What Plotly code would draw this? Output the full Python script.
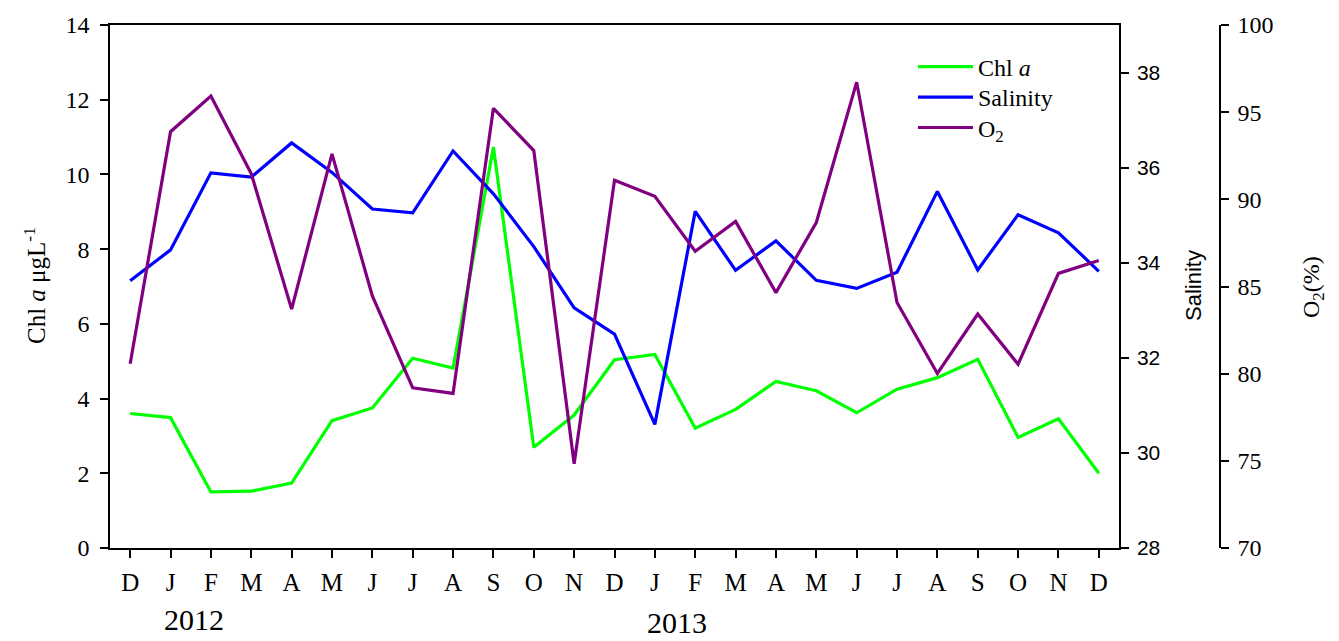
import plotly.graph_objects as go

# Monthly sampling, December 2011 to December 2013
months = ["D", "J", "F", "M", "A", "M", "J", "J", "A", "S", "O", "N",
          "D", "J", "F", "M", "A", "M", "J", "J", "A", "S", "O", "N", "D"]
x_idx = list(range(len(months)))

chl_a = [3.60, 3.49, 1.50, 1.52, 1.74, 3.41, 3.75, 5.08, 4.82, 10.73, 2.70, 3.56,
         5.04, 5.18, 3.21, 3.71, 4.46, 4.21, 3.62, 4.25, 4.56, 5.05, 2.96, 3.46, 2.00]
salinity = [33.62, 34.27, 35.89, 35.80, 36.52, 35.90, 35.13, 35.05, 36.35, 35.45, 34.34, 33.05,
            32.50, 30.60, 35.08, 33.84, 34.46, 33.63, 33.46, 33.80, 35.50, 33.85, 35.01, 34.63, 33.82]
oxygen = [80.57, 93.88, 95.92, 91.47, 83.70, 92.61, 84.46, 79.19, 78.87, 95.22, 92.80, 74.83,
          91.09, 90.18, 87.02, 88.73, 84.65, 88.67, 96.72, 84.08, 80.01, 83.42, 80.54, 85.75, 86.49]

chl_ticks = [0, 2, 4, 6, 8, 10, 12, 14]
sal_ticks = [28, 30, 32, 34, 36, 38]
o2_ticks = [70, 75, 80, 85, 90, 95, 100]

SERIF = "Liberation Serif"
SANS = "Liberation Sans"

W, H = 1339, 641
ML, MR, MT, MB = 110, 119, 19, 93
plot_w = W - ML - MR
plot_h = H - MT - MB
x_dom_end = 1009 / plot_w


def px(xp):
    return (xp - ML) / plot_w


def py(yp):
    return (H - MB - yp) / plot_h


fig = go.Figure()
fig.add_trace(go.Scatter(x=x_idx, y=chl_a, mode="lines", name="Chl <i>a</i>",
                         line=dict(color="#00ff00", width=3.2), yaxis="y",
                         legend="legend"))
fig.add_trace(go.Scatter(x=x_idx, y=salinity, mode="lines", name="Salinity",
                         line=dict(color="#0000ff", width=3.2), yaxis="y2",
                         legend="legend2"))
fig.add_trace(go.Scatter(x=x_idx, y=oxygen, mode="lines", name="O<sub>2</sub>",
                         line=dict(color="#800080", width=3.2), yaxis="y3",
                         legend="legend3"))

axis_common = dict(showline=True, linecolor="black", linewidth=1.5,
                   ticks="outside", ticklen=8, tickwidth=1.5, tickcolor="black",
                   showgrid=False, zeroline=False)


def legend_at(row_y):
    # one legend box per series, stacked as rows
    return dict(x=px(913), y=py(row_y - 28), xanchor="left", yanchor="top",
                font=dict(family=SERIF, size=24, color="black"),
                itemwidth=55, bgcolor="rgba(0,0,0,0)")


fig.update_layout(
    width=W, height=H,
    margin=dict(l=ML, r=MR, t=MT, b=MB, pad=0),
    paper_bgcolor="white", plot_bgcolor="white",
    showlegend=True,
    legend=legend_at(66.7),
    legend2=legend_at(97.5),
    legend3=legend_at(128.3),
    xaxis=dict(domain=[0, x_dom_end], range=[-0.5, 24.5],
               tickmode="array", tickvals=x_idx, ticktext=months,
               tickfont=dict(family=SERIF, size=25, color="black"),
               ticklabelstandoff=3, mirror=True, **axis_common),
    yaxis=dict(range=[0, 14], tickmode="array", tickvals=chl_ticks,
               tickfont=dict(family=SERIF, size=24, color="black"),
               ticklabelstandoff=6, **axis_common),
    yaxis2=dict(range=[28, 39], overlaying="y", side="right", anchor="x",
                tickmode="array", tickvals=sal_ticks,
                tickfont=dict(family=SANS, size=21, color="black"),
                ticklabelstandoff=4, **axis_common),
    yaxis3=dict(range=[70, 100], overlaying="y", side="right", anchor="free",
                position=1.0, tickmode="array", tickvals=o2_ticks,
                tickfont=dict(family=SERIF, size=24, color="black"),
                ticklabelstandoff=4, **axis_common),
)

annotations = [
    dict(text="Chl <i>a</i> μgL<sup>-1</sup>", x=px(35), y=py(283), textangle=-90,
         font=dict(family=SERIF, size=25, color="black")),
    dict(text="Salinity", x=px(1193), y=py(283), textangle=-90,
         font=dict(family=SANS, size=22, color="black")),
    dict(text="O<sub>2</sub>(%)", x=px(1313), y=py(284), textangle=-90,
         font=dict(family=SERIF, size=24, color="black")),
    dict(text="2012", x=px(194), y=py(620),
         font=dict(family=SERIF, size=30, color="black")),
    dict(text="2013", x=px(676.5), y=py(623),
         font=dict(family=SERIF, size=30, color="black")),
]
for a in annotations:
    a.update(xref="paper", yref="paper", xanchor="center", yanchor="middle",
             showarrow=False)
fig.update_layout(annotations=annotations)

fig.write_html("out.html")
